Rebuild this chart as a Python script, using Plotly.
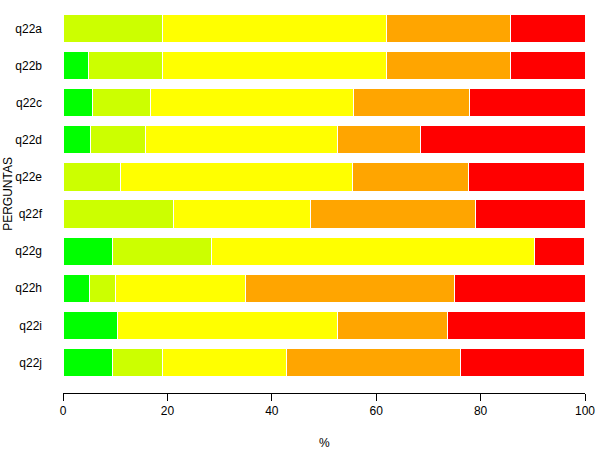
import plotly.graph_objects as go

# questions, top to bottom
questions = ["q22a", "q22b", "q22c", "q22d", "q22e", "q22f", "q22g", "q22h", "q22i", "q22j"]

# percentage of answers per level
level1 = [0, 4.8, 5.6, 5.3, 0, 0, 9.5, 5.0, 10.5, 9.5]
level2 = [19.0, 14.3, 11.1, 10.5, 11.1, 21.1, 19.0, 5.0, 0, 9.5]
level3 = [42.9, 42.9, 38.9, 36.8, 44.4, 26.3, 61.9, 25.0, 42.1, 23.8]
level4 = [23.8, 23.8, 22.2, 15.8, 22.2, 31.6, 0, 40.0, 21.1, 33.3]
level5 = [14.3, 14.3, 22.2, 31.6, 22.2, 21.1, 9.5, 25.0, 26.3, 23.8]

series = [level1, level2, level3, level4, level5]
colors = ["#00FF00", "#CCFF00", "#FFFF00", "#FFA500", "#FF0000"]

fig = go.Figure()
for vals, col in zip(series, colors):
    fig.add_trace(
        go.Bar(
            y=questions,
            x=vals,
            orientation="h",
            marker=dict(color=col, line=dict(color="white", width=1)),
            showlegend=False,
            hoverinfo="x+y",
        )
    )

font = dict(family="Liberation Sans, Arial, sans-serif", size=12, color="black")

fig.update_layout(
    barmode="stack",
    bargap=0.24,
    width=600,
    height=450,
    margin=dict(l=63, r=15, t=10, b=57, autoexpand=False),
    paper_bgcolor="white",
    plot_bgcolor="white",
    font=font,
    xaxis=dict(
        range=[0, 100],
        tickvals=[0, 20, 40, 60, 80, 100],
        showgrid=False,
        zeroline=False,
        showline=True,
        linecolor="black",
        linewidth=1,
        ticks="outside",
        ticklen=7,
        tickcolor="black",
        anchor="free",
        position=0,
        tickfont=font,
    ),
    yaxis=dict(
        domain=[0.0313, 1],
        categoryorder="array",
        categoryarray=questions,
        range=[9.5, -0.5],
        showgrid=False,
        zeroline=False,
        showline=False,
        ticks="",
        ticklabelstandoff=20,
        tickfont=font,
    ),
    annotations=[
        dict(
            text="PERGUNTAS",
            xref="paper",
            yref="paper",
            x=-0.1054,
            y=0.52,
            xanchor="center",
            yanchor="middle",
            textangle=-90,
            showarrow=False,
            font=font,
        ),
        dict(
            text="%",
            xref="paper",
            yref="paper",
            x=0.5,
            y=-0.1305,
            xanchor="center",
            yanchor="middle",
            showarrow=False,
            font=font,
        ),
    ],
)

# drop the default body margin so the figure sits at the window's corner
fig.write_html(
    "out.html",
    config={"displayModeBar": False},
    post_script="document.body.style.margin='0px';",
)
